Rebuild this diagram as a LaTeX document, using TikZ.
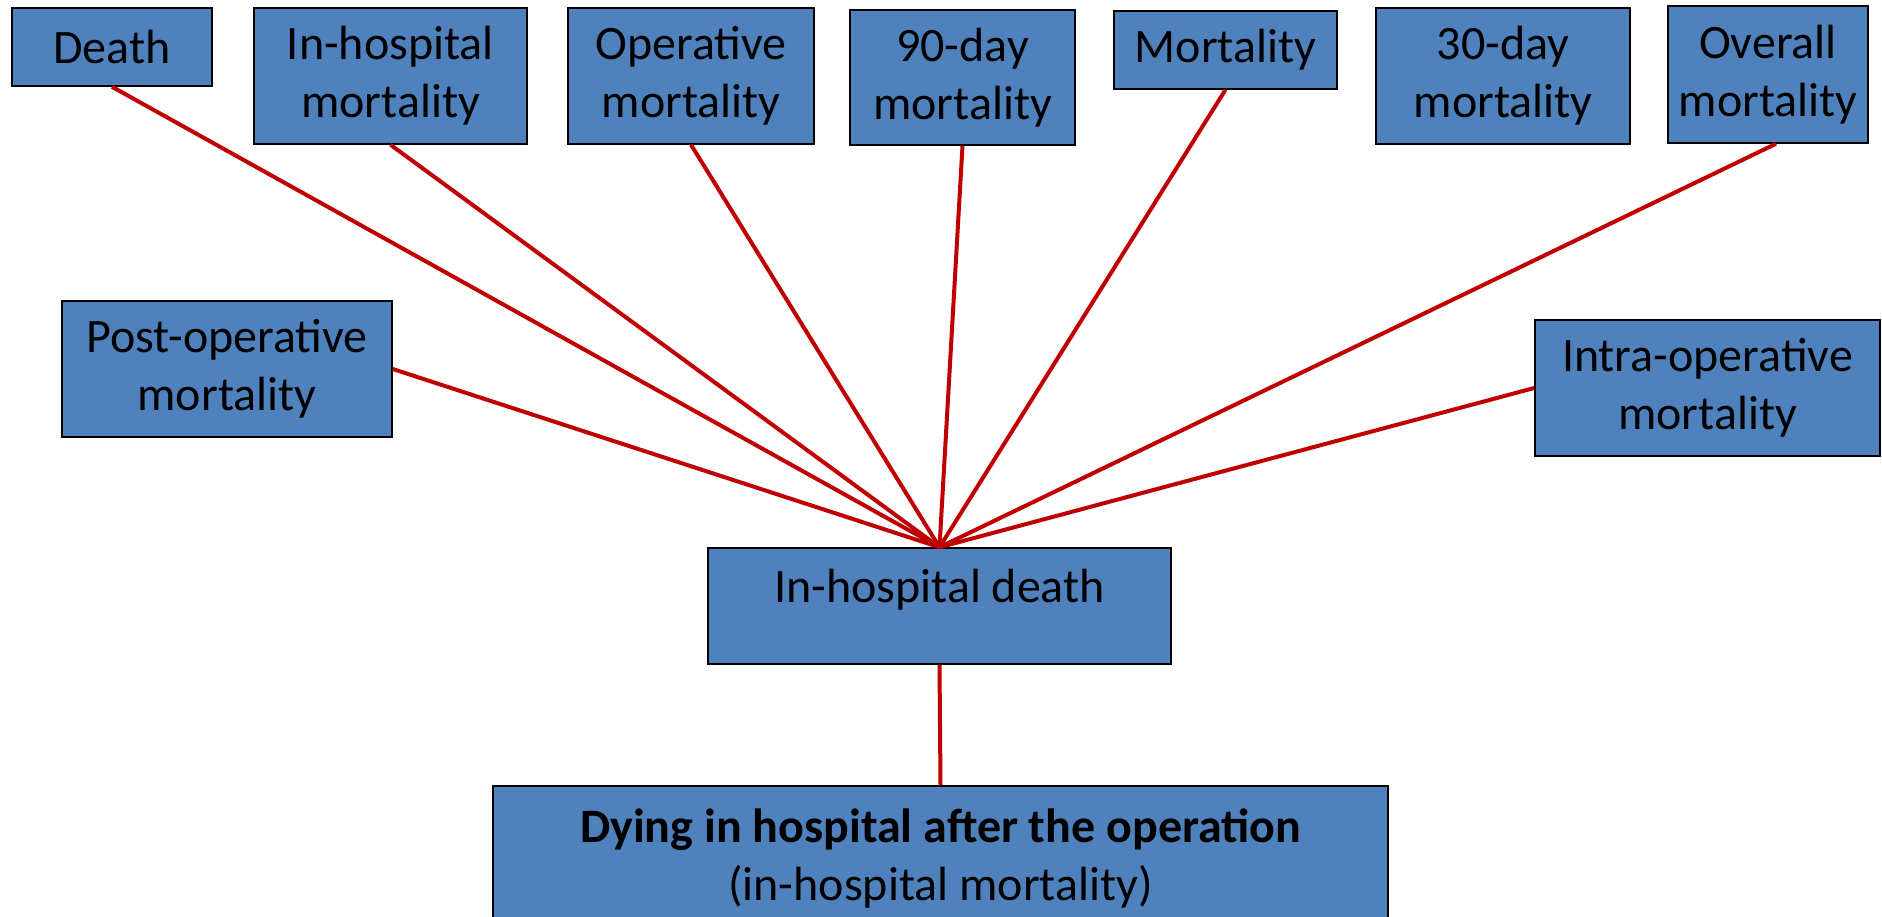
\documentclass[tikz,border=0pt]{standalone}
\usepackage{fontspec}
\setmainfont{Carlito}
\definecolor{boxblue}{HTML}{4F81BD}
\definecolor{linered}{HTML}{C00000}
\begin{document}
\begin{tikzpicture}[x=1pt,y=-1pt,
  box/.style={draw=black, line width=1.5pt, fill=boxblue, inner sep=0pt, align=center,
    font=\fontsize{48}{58}\selectfont, text=black},
  txt/.style={inner sep=0pt, align=center, font=\fontsize{48}{58}\selectfont, text=black},
  link/.style={draw=linered, line width=4pt}]
\useasboundingbox (0,0) rectangle (1882,917);
\clip (0,0) rectangle (1882,917);
\node[box, minimum width=200pt, minimum height=78pt] (death) at (112,47) {Death};
\node[box, minimum width=273pt, minimum height=136pt] (ihm) at (390.5,76) {In-hospital\\mortality};
\node[box, minimum width=246pt, minimum height=136pt] (opm) at (691,76) {Operative\\mortality};
\node[box, minimum width=225pt, minimum height=135pt] (d90) at (962.5,77.5) {90-day\\mortality};
\node[box, minimum width=223pt, minimum height=78pt] (mort) at (1225.5,50) {Mortality};
\node[box, minimum width=254pt, minimum height=136pt] (d30) at (1503,76) {30-day\\mortality};
\node[box, minimum width=200pt, minimum height=137pt] (overall) at (1768,74.5) {Overall\\mortality};
\node[box, minimum width=330pt, minimum height=136pt] (postop) at (227,369) {Post-operative\\mortality};
\node[box, minimum width=345pt, minimum height=136pt] (intraop) at (1707.5,388) {Intra-operative\\mortality};
\node[box, minimum width=463pt, minimum height=116pt] (ihd) at (939.5,606) {};
\node[txt] (ihdtext) at (939.5,590) {In-hospital death};
\node[box, minimum width=895pt, minimum height=144pt] (dying) at (940.5,858) {\textbf{Dying in hospital after the operation}\\(in-hospital mortality)};
\draw[link] ([xshift=8pt]overall.south) -- (ihd.north);
\draw[link] (death.south) -- (ihd.north);
\draw[link] (ihm.south) -- (ihd.north);
\draw[link] (opm.south) -- (ihd.north);
\draw[link] (d90.south) -- (ihd.north);
\draw[link] (mort.south) -- (ihd.north);
\draw[link] (postop.east) -- (ihd.north);
\draw[link] (intraop.west) -- (ihd.north);
\draw[link] (ihd.south) -- (dying.north);
\end{tikzpicture}
\end{document}
